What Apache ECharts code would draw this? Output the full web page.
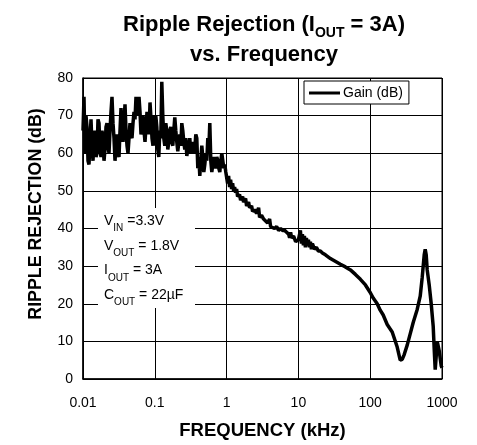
<!DOCTYPE html>
<html>
<head>
<meta charset="utf-8">
<script src="https://cdn.jsdelivr.net/npm/echarts@6/dist/echarts.min.js"></script>
<style>
html,body{margin:0;padding:0;background:#fff;}
#c{width:477px;height:445px;}
</style>
</head>
<body>
<div id="c"></div>
<script>
// Frequency (kHz)
var freqs = [
0.01,0.010326,0.010662,0.01101,0.011368,0.011739,0.012121,0.012516,0.012924,0.013345,0.01378,0.014229,0.014693,0.015172,0.015666,0.016177,0.016704,0.017248,0.017811,0.018391,0.01899,0.019609,0.020248,0.020908,0.02159,0.022293,0.02302,0.02377,0.024545,0.025345,0.026171,0.027024,0.027905,0.028814,0.029753,0.030723,0.031724,0.032758,0.033826,0.034928,0.036067,0.037242,0.038456,0.039709,0.041004,0.04234,0.04372,0.045145,0.046616,0.048136,0.049705,0.051325,0.052997,0.054725,0.056508,0.05835,0.060252,0.062216,0.064244,0.066337,0.0685,0.070732,0.073038,0.075418,0.077876,0.080414,0.083035,0.085742,0.088536,0.091422,0.094402,0.097468,
0.1,0.10326,0.10662,0.1101,0.11368,0.11739,0.12121,0.12516,0.12924,0.13345,0.1378,0.14229,0.14693,0.15172,0.15666,0.16177,0.16704,0.17248,0.17811,0.18391,0.1899,0.19609,0.20248,0.20908,0.2159,0.22293,0.2302,0.2377,0.24545,0.25345,0.26171,0.27024,0.27905,0.28814,0.29753,0.30723,0.31724,0.32758,0.33826,0.34928,0.36067,0.37242,0.38456,0.39709,0.41004,0.4234,0.4372,0.45145,0.46616,0.48136,0.49705,0.51325,0.52997,0.54725,0.56508,0.5835,0.60252,0.62216,0.64244,0.66337,0.685,0.70732,0.73038,0.75418,0.77876,0.80414,0.83035,0.85742,0.88536,0.91422,0.94402,0.97468,
1,1.0326,1.0662,1.101,1.1368,1.1739,1.2121,1.2516,1.2924,1.3345,1.378,1.4229,1.5172,1.5666,1.6704,1.7248,1.8391,1.899,2.0248,2.0908,2.2293,2.302,2.4545,2.6171,2.7905,2.8814,3.0723,3.2758,3.4928,3.7242,3.9709,4.1004,4.372,4.6616,4.9705,5.2997,5.6508,6.0252,6.4244,6.85,7.3038,7.5418,7.7876,8.0414,8.5742,9.1422,9.7468,
10,10.662,11.01,11.368,11.739,12.121,12.516,12.924,13.345,13.78,14.229,14.693,15.172,15.666,16.704,17.811,18.99,20.248,21.59,23.77,27.905,38.456,45.145,52.997,62.216,73.038,85.742,
100,110.1,125.16,137.8,151.72,172.48,202.48,237.7,261.71,279.05,297.53,327.58,360.67,397.09,451.45,497.05,529.97,565.08,583.5,602.52,622.16,663.37,707.32,754.18,778.76,804.14,830.35,857.42,914.22,974.68,1000
];
// Gain (dB)
var gains = [
66,75,60,70,67,58,57,63,69,62,58,64,66,59,60,69,68,61,59,66,64,58,61,67,68,62,60,66,71,75,68,64,58,62,65,60,59,66,72,67,63,68,73,66,62,60,64,68,65,64,68,71,69,75,72,70,75,71,65,67,70,66,63,67,71,68,65,73.5,69,64,62,70,
62,70,67,61,59,66,64,79,70,64,62,68,66,61,63,66,67,63,62,66,69.5,66,63,60.5,63,65,62,68,66,63,61,64,59.3,61,62,64,60,62,63,60,61,65,64,56,59,54,58,62,59,55,57,60,58,64,61,68,58,55,57,59,57,56,59,58,56,55,58,60,59.7,56,57,55,
55,52,54,51,53,50.5,52,50,51,49.5,50.5,48.5,49,47.5,48.5,47,48,46,47,45.5,46,44.5,45,44,45.5,43,43.5,42.5,42,41.5,42.5,40.5,41,40,40.5,39.5,40,39.5,39.5,39,38.5,37.5,39,37.5,38,36.5,37,
37,39.5,36,38.5,35.5,38,35,37.5,35.5,37,35,36.5,34.5,36,34.5,35,34,34,33.5,33,32,30.5,29.8,29,27.8,26.5,25,
23,21.5,20,18.3,17,14.5,12.5,8.5,5,5.2,6.5,9,12,15,18.5,22,27,33,34.5,33,29,25,20,14,8,2.5,6,10,7.5,3.5,3
];
var xTickLabels = ['0.01','0.1','1','10','100','1000'];
var yTicks = [0,10,20,30,40,50,60,70,80];
var seriesName = 'Gain (dB)';
var noteLines = [['V','IN',' =3.3V'],['V','OUT',' = 1.8V'],['I','OUT',' = 3A'],['C','OUT',' = 22µF']];

var data = freqs.map(function(f,i){return [f,gains[i]];});
var FONT = '"Liberation Sans", Arial, sans-serif';

var noteText = noteLines.map(function(l){return '{n|'+l[0]+'}{s|'+l[1]+'}{n|'+l[2]+'}';}).join('\n');

var chart = echarts.init(document.getElementById('c'), null, {renderer:'canvas'});
chart.setOption({
  animation:false,
  backgroundColor:'#fff',
  title:{
    text:'{a|Ripple Rejection (I}{s|OUT}{a| = 3A)}\n{a|vs. Frequency}',
    left:259, top:5, textAlign:'center',
    textStyle:{
      rich:{
        a:{fontFamily:FONT,fontWeight:'bold',fontSize:22,color:'#000',lineHeight:30},
        s:{fontFamily:FONT,fontWeight:'bold',fontSize:14,color:'#000',lineHeight:30,verticalAlign:'bottom'}
      }
    }
  },
  grid:{left:83,right:35,top:78,bottom:63.5,show:true,borderColor:'#000',borderWidth:1,backgroundColor:'transparent'},
  legend:{
    left:304, top:81, orient:'horizontal',
    data:[{name:seriesName,icon:'rect'}],
    itemWidth:31,itemHeight:3,itemGap:4,
    padding:[5,6,4,5],
    borderColor:'#000',borderWidth:1,borderRadius:0,backgroundColor:'#fff',
    textStyle:{fontFamily:FONT,fontSize:14,color:'#000',padding:[0,0,0,-2]}
  },
  xAxis:{
    type:'log',logBase:10,min:0.01,max:1000,
    name:'FREQUENCY (kHz)',nameLocation:'middle',nameGap:42,
    nameTextStyle:{fontFamily:FONT,fontWeight:'bold',fontSize:18.5,color:'#000'},
    axisLine:{show:true,lineStyle:{color:'#000',width:1.5}},
    axisTick:{show:false},
    axisLabel:{fontFamily:FONT,fontSize:14,color:'#000',margin:17,
      formatter:function(v){return xTickLabels[Math.round(Math.log10(v))+2];}},
    splitLine:{show:true,lineStyle:{color:'#000',width:1}},
    minorTick:{show:false},minorSplitLine:{show:false}
  },
  yAxis:{
    type:'value',min:0,max:80,interval:10,
    axisLine:{show:true,lineStyle:{color:'#000',width:1.5}},
    axisTick:{show:false},
    axisLabel:{fontFamily:FONT,fontSize:14,color:'#000',margin:10,
      formatter:function(v){return yTicks.indexOf(v)>=0?String(v):'';}},
    splitLine:{show:true,lineStyle:{color:'#000',width:1}}
  },
  graphic:[
    {type:'text',z:6,x:36,y:214,rotation:Math.PI/2,style:{
      text:'RIPPLE REJECTION (dB)',fontFamily:FONT,fontWeight:'bold',fontSize:17.8,fill:'#000',
      align:'center',verticalAlign:'middle'}},
    {type:'rect',z:5,shape:{x:98,y:208,width:97,height:100},style:{fill:'#fff',stroke:null}},
    {type:'text',z:6,left:104,top:214,style:{
      text:noteText,
      rich:{
        n:{fontFamily:FONT,fontSize:14,color:'#000',lineHeight:24.7},
        s:{fontFamily:FONT,fontSize:10,color:'#000',lineHeight:24.7,verticalAlign:'bottom'}
      }
    }}
  ],
  series:[{
    name:seriesName,type:'line',data:data,showSymbol:false,symbol:'none',
    lineStyle:{color:'#000',width:3.5},itemStyle:{color:'#000'},
    z:3
  }]
});
</script>
</body>
</html>
